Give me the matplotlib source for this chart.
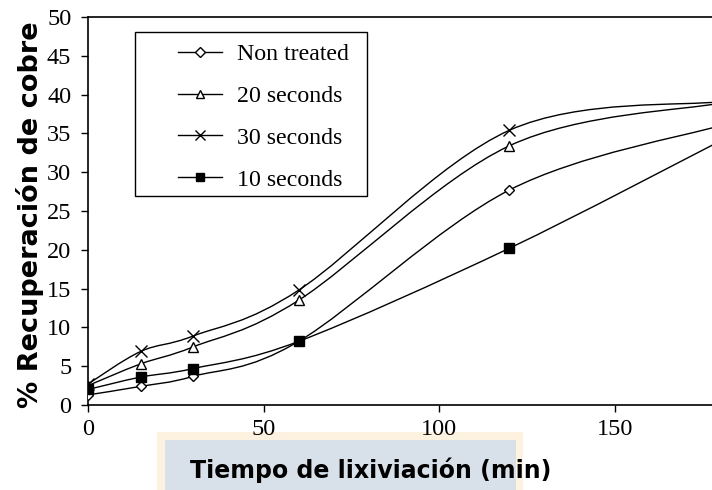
import numpy as np
import matplotlib
matplotlib.use('Agg')
import matplotlib.pyplot as plt
from matplotlib.path import Path
from matplotlib.patches import PathPatch, Rectangle
from matplotlib.lines import Line2D

'''
datos leídos de la figura
'''
tiempo = [0, 15, 30, 60, 120, 180]

non_treated = [1.3, 2.4, 3.7, 8.2, 27.7, 36.0]
seg_20 = [2.5, 5.3, 7.5, 13.5, 33.4, 38.9]
seg_30 = [2.7, 6.9, 8.9, 14.8, 35.4, 39.1]
seg_10 = [2.0, 3.6, 4.7, 8.2, 20.2, 34.0]

series = [
    ('Non treated', non_treated, 'D', 'white', 5.5),
    ('20 seconds', seg_20, '^', 'white', 7),
    ('30 seconds', seg_30, 'x', 'black', 8),
    ('10 seconds', seg_10, 's', 'black', 7),
]


def curva_suave(x, y):
    # curva tipo "línea suavizada" de Excel: bezier cúbica por tramos
    x = np.asarray(x, float)
    y = np.asarray(y, float)
    n = len(x)
    verts = [(x[0], y[0])]
    codes = [Path.MOVETO]
    for i in range(n - 1):
        a = max(i - 1, 0)
        b = min(i + 2, n - 1)
        c1 = (x[i] + (x[i + 1] - x[a]) / 6, y[i] + (y[i + 1] - y[a]) / 6)
        c2 = (x[i + 1] - (x[b] - x[i]) / 6, y[i + 1] - (y[b] - y[i]) / 6)
        verts += [c1, c2, (x[i + 1], y[i + 1])]
        codes += [Path.CURVE4] * 3
    return Path(verts, codes)


W, H = 712, 490
fig = plt.figure(figsize=(7.12, 4.9), dpi=100)
ax = fig.add_axes([88 / W, 1 - 405 / H, (720 - 88) / W, (405 - 17) / H])
ax.set_zorder(1)

handles = []
for nombre, valores, marca, relleno, tam in series:
    ax.add_patch(PathPatch(curva_suave(tiempo, valores), facecolor='none',
                           edgecolor='black', lw=1.0))
    ax.plot(tiempo[:5], valores[:5], ls='none', marker=marca, ms=tam,
            mfc=relleno, mec='black', mew=1.0, zorder=3)
    handles.append(Line2D([], [], color='black', lw=1.0, marker=marca, ms=tam * 0.85,
                          mfc=relleno, mec='black', mew=1.0, label=nombre))

ax.set_xlim(0, 180)
ax.set_ylim(0, 50)
ax.set_xticks([0, 50, 100, 150])
ax.set_yticks(np.arange(0, 51, 5))
ax.spines['right'].set_visible(False)
for s in ['left', 'top', 'bottom']:
    ax.spines[s].set_linewidth(1.2)
ax.tick_params(direction='out', length=5, width=1.0, labelsize=17.5)
ax.tick_params(axis='y', pad=7)
ax.tick_params(axis='x', pad=5)
for lab in ax.get_xticklabels() + ax.get_yticklabels():
    lab.set_fontfamily('Liberation Serif')

# marco de la leyenda dibujado aparte
fig.patches.append(Rectangle((135 / W, 1 - 196 / H), (367 - 135) / W, (196 - 32) / H,
                             transform=fig.transFigure, facecolor='white',
                             edgecolor='black', lw=1.0, zorder=2))
leg = fig.legend(handles=handles, loc='upper left',
                 bbox_to_anchor=(178 / W, 1 - 43.5 / H),
                 prop={'family': 'Liberation Serif', 'size': 17.2}, frameon=False,
                 handlelength=1.85, labelspacing=0.84, borderpad=0,
                 handletextpad=0.62, borderaxespad=0)
leg.set_zorder(3)

# etiqueta eje y
fig.text(30 / W, 1 - 215 / H, '% Recuperación de cobre', rotation=90,
         fontsize=19.5, fontweight='bold', family='DejaVu Sans',
         ha='center', va='center')

# recuadro de la etiqueta eje x
fig.patches.append(Rectangle((157 / W, 0), (523 - 157) / W, (H - 432) / H,
                             transform=fig.transFigure, facecolor='#fdf2df',
                             edgecolor='none', zorder=0))
fig.patches.append(Rectangle((165 / W, 0), (516 - 165) / W, (H - 440) / H,
                             transform=fig.transFigure, facecolor='#d8e0ea',
                             edgecolor='none', zorder=0))
fig.text(190 / W, 1 - 478 / H, 'Tiempo de lixiviación (min)', fontsize=17,
         fontweight='bold', family='DejaVu Sans', ha='left', va='baseline')

plt.savefig('out.png', dpi=100)
